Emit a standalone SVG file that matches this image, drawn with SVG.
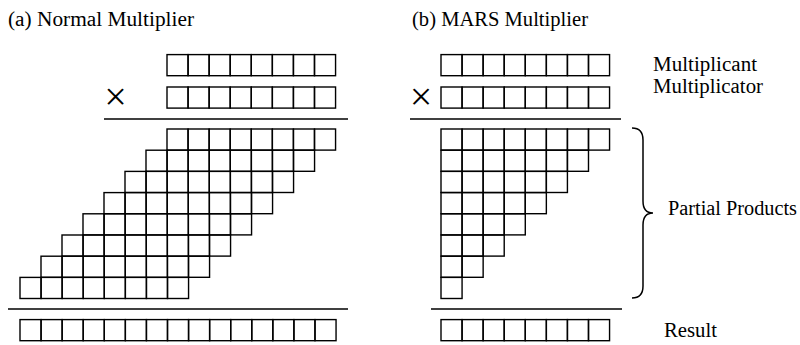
<svg xmlns="http://www.w3.org/2000/svg" xmlns:xlink="http://www.w3.org/1999/xlink" width="800" height="345" viewBox="0 0 800 345">
<style>
.c{fill:none;stroke:#000;stroke-width:1.4}
.ln{fill:none;stroke:#000;stroke-width:1.5}
.t{font-family:"Liberation Serif","Times New Roman",serif;font-size:20px;fill:#000}
.x{font-family:"Liberation Serif","Times New Roman",serif;font-size:40px;fill:#000;text-anchor:middle}
</style>
<defs>
<rect id="cell" width="21.07" height="21.1" class="c"/>
<g id="r1"><use href="#cell"/></g>
<g id="r2"><use href="#r1"/><use href="#cell" x="21.07"/></g>
<g id="r3"><use href="#r2"/><use href="#cell" x="42.14"/></g>
<g id="r4"><use href="#r3"/><use href="#cell" x="63.21"/></g>
<g id="r5"><use href="#r4"/><use href="#cell" x="84.28"/></g>
<g id="r6"><use href="#r5"/><use href="#cell" x="105.35"/></g>
<g id="r7"><use href="#r6"/><use href="#cell" x="126.42"/></g>
<g id="r8"><use href="#r7"/><use href="#cell" x="147.49"/></g>
<g id="r15"><use href="#r8"/><use href="#r7" x="168.56"/></g>
</defs>
<rect width="800" height="345" fill="#fff"/>
<g id="titles">
<text class="t" x="8" y="26" textLength="186" lengthAdjust="spacingAndGlyphs">(a) Normal Multiplier</text>
<text class="t" x="412" y="26" textLength="176" lengthAdjust="spacingAndGlyphs">(b) MARS Multiplier</text>
</g>
<g id="normal-multiplier">
<g id="a-multiplicand"><use href="#r8" x="167" y="54.6"/></g>
<g id="a-multiplicator"><use href="#r8" x="167" y="87"/><text class="x" x="115.5" y="109.5">×</text></g>
<line class="ln" x1="104" y1="119" x2="348" y2="119"/>
<g id="a-partials">
<use href="#r8" x="167" y="129"/>
<use href="#r8" x="146" y="150.2"/>
<use href="#r8" x="125" y="171.4"/>
<use href="#r8" x="104" y="192.6"/>
<use href="#r8" x="83" y="213.8"/>
<use href="#r8" x="62" y="235"/>
<use href="#r8" x="41" y="256.2"/>
<use href="#r8" x="20" y="277.4"/>
</g>
<line class="ln" x1="8" y1="309" x2="348" y2="309"/>
<g id="a-result"><use href="#r15" x="20" y="319.6"/></g>
</g>
<g id="mars-multiplier">
<g id="b-multiplicand"><use href="#r8" x="441" y="54.6"/></g>
<g id="b-multiplicator"><use href="#r8" x="441" y="87"/><text class="x" x="421" y="109.5">×</text></g>
<line class="ln" x1="410" y1="119" x2="621" y2="119"/>
<g id="b-partials">
<use href="#r8" x="441" y="129"/>
<use href="#r7" x="441" y="150.2"/>
<use href="#r6" x="441" y="171.4"/>
<use href="#r5" x="441" y="192.6"/>
<use href="#r4" x="441" y="213.8"/>
<use href="#r3" x="441" y="235"/>
<use href="#r2" x="441" y="256.2"/>
<use href="#r1" x="441" y="277.4"/>
</g>
<line class="ln" x1="431" y1="309" x2="622" y2="309"/>
<g id="b-result"><use href="#r8" x="441" y="319.6"/></g>
</g>
<g id="labels">
<text class="t" x="653" y="70.7" textLength="104" lengthAdjust="spacingAndGlyphs">Multiplicant</text>
<text class="t" x="653" y="92.7" textLength="110" lengthAdjust="spacingAndGlyphs">Multiplicator</text>
<path id="brace" class="ln" d="M632,128 Q643,128 643,140 L643,201 Q643,213 653,213 Q643,213 643,225 L643,286 Q643,298 632,298"/>
<text class="t" x="668" y="215" textLength="129" lengthAdjust="spacingAndGlyphs">Partial Products</text>
<text class="t" x="664" y="336.7" textLength="53" lengthAdjust="spacingAndGlyphs">Result</text>
</g>
</svg>
